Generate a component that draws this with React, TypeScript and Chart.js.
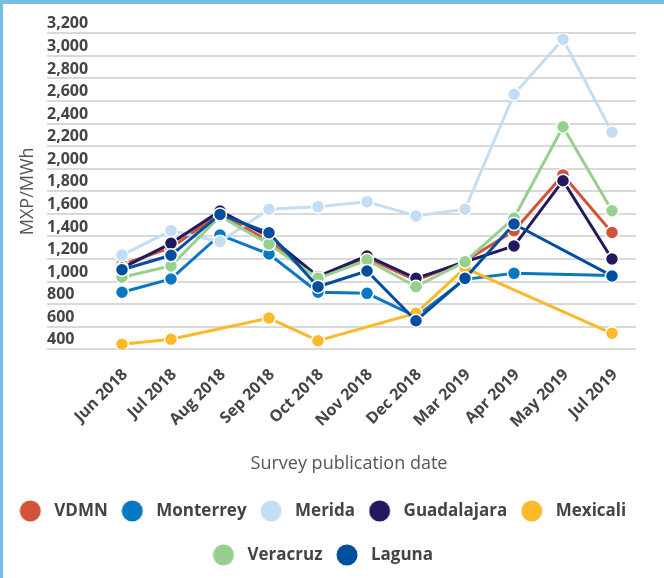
import React, { useEffect, useRef } from 'react';
import { Chart, registerables } from 'chart.js';

Chart.register(...registerables);

const FONT = "'Open Sans', sans-serif";

const categories = [
  'Jun 2018', 'Jul 2018', 'Aug 2018', 'Sep 2018', 'Oct 2018', 'Nov 2018',
  'Dec 2018', 'Mar 2019', 'Apr 2019', 'May 2019', 'Jul 2019',
];

const vdmn = [1150, 1300, 1600, 1360, 1035, 1210, 1010, 1180, 1450, 1945, 1435];
const monterrey = [905, 1023, 1413, 1244, 905, 896, 690, 1020, 1073, null, 1055];
const merida = [1235, 1451, 1353, 1641, 1664, 1708, 1581, 1641, 2660, 3147, 2323];
const guadalajara = [1120, 1339, 1625, 1400, 1045, 1227, 1029, 1175, 1315, 1894, 1200];
const mexicali = [445, 489, null, 677, 476, null, 720, 1120, null, null, 542];
const veracruz = [1038, 1138, 1580, 1333, 1029, 1191, 955, 1176, 1563, 2372, 1628];
const laguna = [1105, 1233, 1595, 1433, 955, 1094, 653, 1029, 1510, null, 1050];

const seriesNames = ['VDMN', 'Monterrey', 'Merida', 'Guadalajara', 'Mexicali', 'Veracruz', 'Laguna'];
const seriesColors = ['#d05538', '#0a77c2', '#c3ddf2', '#221a5e', '#fbb92b', '#97d08e', '#004f9f'];

const yMin = 400;
const yMax = 3200;
const yStep = 200;

function makeDot(color: string) {
  const c = document.createElement('canvas');
  c.width = 40;
  c.height = 24;
  const ctx = c.getContext('2d')!;
  ctx.fillStyle = color;
  ctx.beginPath();
  ctx.arc(11, 12, 10.5, 0, Math.PI * 2);
  ctx.fill();
  return c;
}

export default function App() {
  const ref = useRef<HTMLCanvasElement>(null);

  useEffect(() => {
    document.body.style.margin = '0';
    const series = [vdmn, monterrey, merida, guadalajara, mexicali, veracruz, laguna];
    const dots = seriesColors.map(makeDot);
    const chart = new Chart(ref.current!, {
      type: 'line',
      data: {
        datasets: series.map((vals, i) => ({
          label: seriesNames[i],
          data: vals.map((v, j) => ({ x: j, y: v })),
          borderColor: seriesColors[i],
          backgroundColor: seriesColors[i],
          pointBackgroundColor: seriesColors[i],
          pointBorderColor: '#ffffff',
          pointBorderWidth: 1.5,
          pointRadius: 6.5,
          borderWidth: 3,
          spanGaps: true,
          tension: 0,
          order: series.length - i,
        })),
      },
      options: {
        animation: false,
        responsive: true,
        maintainAspectRatio: false,
        devicePixelRatio: 1,
        layout: { padding: { top: 29.3, bottom: 4.5, left: 0, right: 8 } },
        plugins: {
          tooltip: { enabled: false },
          legend: {
            position: 'bottom',
            labels: {
              usePointStyle: true,
              boxWidth: 13,
              boxHeight: 15,
              padding: 27,
              color: '#444444',
              font: { family: FONT, size: 17, weight: 'bold' },
              generateLabels: (ch: any) =>
                ch.data.datasets.map((ds: any, i: number) => ({
                  text: ds.label,
                  fillStyle: ds.backgroundColor,
                  strokeStyle: ds.backgroundColor,
                  lineWidth: 0,
                  pointStyle: dots[i],
                  hidden: false,
                  datasetIndex: i,
                  fontColor: '#444444',
                })),
            },
          },
        },
        scales: {
          x: {
            type: 'linear',
            min: -1.2245,
            max: 10.49,
            afterBuildTicks: (s: any) => {
              s.ticks = categories.map((_, i) => ({ value: i }));
            },
            afterFit: (s: any) => {
              s.height = 126.2;
            },
            grid: { display: false, drawTicks: false },
            border: { display: false },
            ticks: {
              autoSkip: false,
              minRotation: 45,
              maxRotation: 45,
              padding: 16,
              labelOffset: 3,
              color: '#444444',
              font: { family: FONT, size: 16, weight: 'bold' },
              callback: (v: any) => categories[v] ?? '',
            },
            title: {
              display: true,
              text: 'Survey publication date',
              color: '#555555',
              font: { family: FONT, size: 18 },
              padding: { top: 0, bottom: 1 },
            },
          },
          y: {
            type: 'linear',
            min: yMin,
            max: yMax,
            afterFit: (s: any) => {
              s.width = 59;
            },
            grid: { color: '#d9d9d9', lineWidth: 2, drawTicks: true, tickLength: 15 },
            border: { display: false },
            ticks: {
              stepSize: yStep,
              mirror: true,
              padding: -15,
              labelOffset: -9.5,
              color: '#444444',
              font: { family: FONT, size: 16, weight: 'bold' },
              callback: (v: any) => Number(v).toLocaleString('en-US'),
            },
            title: {
              display: true,
              text: 'MXP/MWh',
              color: '#555555',
              font: { family: FONT, size: 18 },
              padding: { top: 13.7, bottom: 0 },
            },
          },
          y2: {
            type: 'linear',
            position: 'right',
            display: true,
            grid: { display: false, drawTicks: false },
            border: { display: false },
            ticks: { display: false },
            afterFit: (s: any) => {
              s.width = 20;
            },
          },
        },
      } as any,
    });
    return () => chart.destroy();
  }, []);

  return (
    <div
      style={{
        width: 661,
        height: 574,
        borderTop: '4px solid #78bde8',
        borderLeft: '3px solid #78bde8',
        position: 'relative',
      }}
    >
      <canvas ref={ref} />
    </div>
  );
}
